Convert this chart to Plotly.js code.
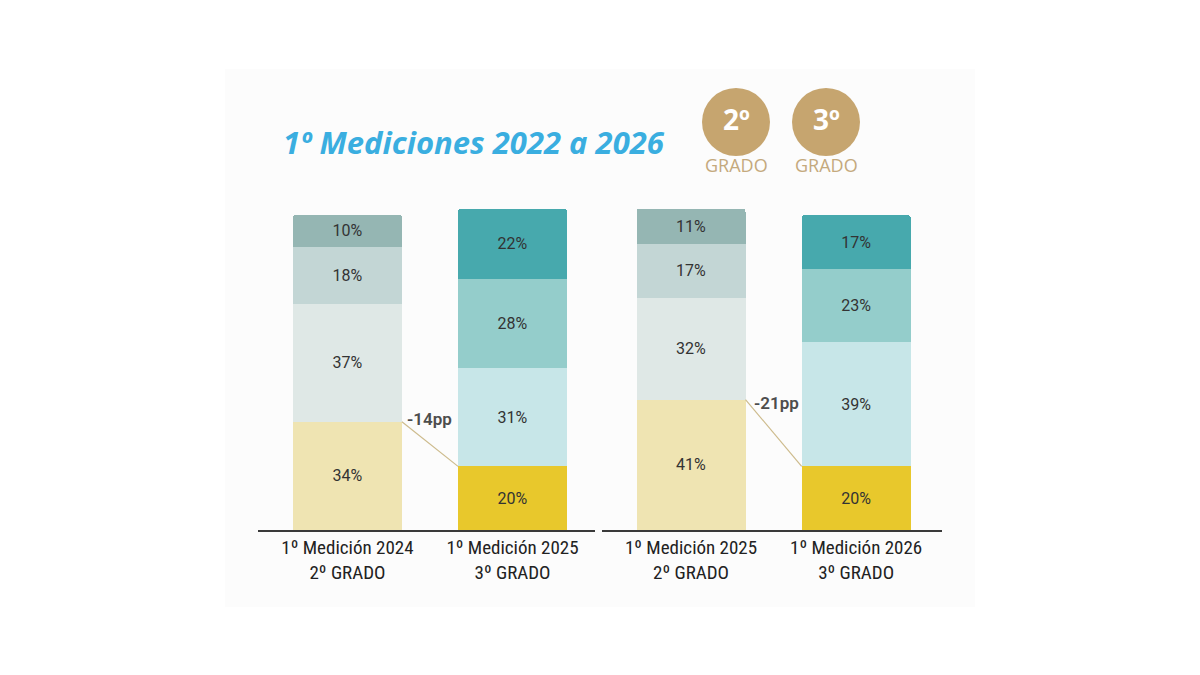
<!DOCTYPE html>
<html>
<head>
<meta charset="utf-8">
<script src="https://cdn.plot.ly/plotly-3.0.1.min.js"></script>
<style>
html,body{margin:0;padding:0;background:#ffffff;}
#chart{width:1200px;height:675px;}
</style>
</head>
<body>
<div id="chart"></div>
<script>
// ---- Data ----
const categoriesLeft = ["1º Medición 2024<br>2º GRADO", "1º Medición 2025<br>3º GRADO"];
const categoriesRight = ["1º Medición 2025<br>2º GRADO", "1º Medición 2026<br>3º GRADO"];

// levels from bottom (nivel 1) to top (nivel 4)
const nivel1Left = [34, 20];
const nivel2Left = [37, 31];
const nivel3Left = [18, 28];
const nivel4Left = [10, 22];

const nivel1Right = [41, 20];
const nivel2Right = [32, 39];
const nivel3Right = [17, 23];
const nivel4Right = [11, 17];

const titleText = "1º Mediciones 2022 a 2026";
const gradeBadges = ["2º", "3º"];
const gradeWord = "GRADO";

// ---- Styles ----
const colors2do = ["#efe4b2", "#dfe8e6", "#c3d6d5", "#95b6b3"];
const colors3ro = ["#e8c82c", "#c7e6e8", "#94cdcb", "#47a9ad"];
const barWidth = 0.66;

function traces(cats, levels, xa, ya) {
  return levels.map((vals, i) => ({
    type: "bar",
    x: cats,
    y: vals,
    xaxis: xa,
    yaxis: ya,
    width: barWidth,
    marker: {color: [colors2do[i], colors3ro[i]], line: {width: 0}, cornerradius: 3},
    texttemplate: "%{y}%",
    textposition: "inside",
    insidetextanchor: "middle",
    constraintext: "none",
    textfont: {family: "Roboto, 'DejaVu Sans', sans-serif", size: 16, color: "#333333"},
    hoverinfo: "skip",
    showlegend: false
  }));
}

const data = [
  ...traces(categoriesLeft, [nivel1Left, nivel2Left, nivel3Left, nivel4Left], "x", "y"),
  ...traces(categoriesRight, [nivel1Right, nivel2Right, nivel3Right, nivel4Right], "x2", "y2")
];

const tickFont = {family: "'Liberation Sans Narrow', 'Roboto Condensed', 'Liberation Sans', sans-serif", size: 19, color: "#222222"};
const yBottom = (675 - 530) / 675;
const yTop = (675 - 180) / 675;

function xAxis(domain, range) {
  return {
    domain: domain, range: range, type: "category",
    showline: true, linecolor: "#3a3a3a", linewidth: 1.5,
    showgrid: false, zeroline: false, ticks: "", tickfont: tickFont,
    ticklabelstandoff: 0,
    fixedrange: true
  };
}
function yAxis(anchor) {
  return {
    domain: [yBottom, yTop], range: [0, 110], anchor: anchor,
    visible: false, showgrid: false, zeroline: false, fixedrange: true
  };
}

// connectors between nivel 1 tops
const connColor = "#cdbb8c";
const shapes = [
  {type: "rect", xref: "paper", yref: "paper", x0: 225/1200, x1: 975/1200, y0: (675-607)/675, y1: (675-69)/675,
   fillcolor: "#fcfcfc", line: {width: 0}, layer: "below"},
  {type: "line", xref: "x", yref: "y", x0: barWidth/2, y0: nivel1Left[0], x1: 1 - barWidth/2, y1: nivel1Left[1],
   line: {color: connColor, width: 1.2}},
  {type: "line", xref: "x2", yref: "y2", x0: barWidth/2, y0: nivel1Right[0], x1: 1 - barWidth/2, y1: nivel1Right[1],
   line: {color: connColor, width: 1.2}},
  {type: "circle", xref: "paper", yref: "paper", x0: 702/1200, x1: 770/1200, y0: (675-156)/675, y1: (675-88)/675,
   fillcolor: "#c6a56f", line: {width: 0}},
  {type: "circle", xref: "paper", yref: "paper", x0: 792/1200, x1: 860/1200, y0: (675-156)/675, y1: (675-88)/675,
   fillcolor: "#c6a56f", line: {width: 0}}
];

const diffFont = {family: "Roboto, 'DejaVu Sans', sans-serif", size: 17, color: "#4d4d4d", weight: 600};
const annotations = [
  {xref: "paper", yref: "paper", x: 281/1200, y: (675-142)/675, xanchor: "left", yanchor: "middle",
   text: "<b><i>" + titleText + "</i></b>", showarrow: false,
   font: {family: "'Open Sans', 'Noto Sans', sans-serif", size: 31, color: "#3aaee0"}},
  {xref: "x", yref: "y", x: 0.5, y: nivel1Left[0] + 1, xanchor: "center", yanchor: "middle",
   text: (nivel1Left[1] - nivel1Left[0]) + "pp", showarrow: false, font: diffFont},
  {xref: "x2", yref: "y2", x: 0.52, y: nivel1Right[0] - 1, xanchor: "center", yanchor: "middle",
   text: (nivel1Right[1] - nivel1Right[0]) + "pp", showarrow: false, font: diffFont},
  {xref: "paper", yref: "paper", x: 736/1200, y: (675-119)/675, xanchor: "center", yanchor: "middle",
   text: "<b>" + gradeBadges[0] + "</b>", showarrow: false,
   font: {family: "'Open Sans', 'Noto Sans', sans-serif", size: 28, color: "#ffffff"}},
  {xref: "paper", yref: "paper", x: 826/1200, y: (675-119)/675, xanchor: "center", yanchor: "middle",
   text: "<b>" + gradeBadges[1] + "</b>", showarrow: false,
   font: {family: "'Open Sans', 'Noto Sans', sans-serif", size: 28, color: "#ffffff"}},
  {xref: "paper", yref: "paper", x: 736/1200, y: (675-165)/675, xanchor: "center", yanchor: "middle",
   text: gradeWord, showarrow: false,
   font: {family: "'Open Sans', 'Noto Sans', sans-serif", size: 18, color: "#c4a97d"}},
  {xref: "paper", yref: "paper", x: 826/1200, y: (675-165)/675, xanchor: "center", yanchor: "middle",
   text: gradeWord, showarrow: false,
   font: {family: "'Open Sans', 'Noto Sans', sans-serif", size: 18, color: "#c4a97d"}}
];

const layout = {
  width: 1200, height: 675,
  margin: {l: 0, r: 0, t: 0, b: 0},
  paper_bgcolor: "#ffffff", plot_bgcolor: "rgba(0,0,0,0)",
  barmode: "stack",
  showlegend: false,
  xaxis: xAxis([258/1200, 595/1200], [-0.542, 1.5]),
  yaxis: yAxis("x"),
  xaxis2: xAxis([602/1200, 942/1200], [-0.539, 1.52]),
  yaxis2: yAxis("x2"),
  shapes: shapes,
  annotations: annotations
};

Plotly.newPlot("chart", data, layout, {displayModeBar: false, staticPlot: true});
</script>
</body>
</html>
